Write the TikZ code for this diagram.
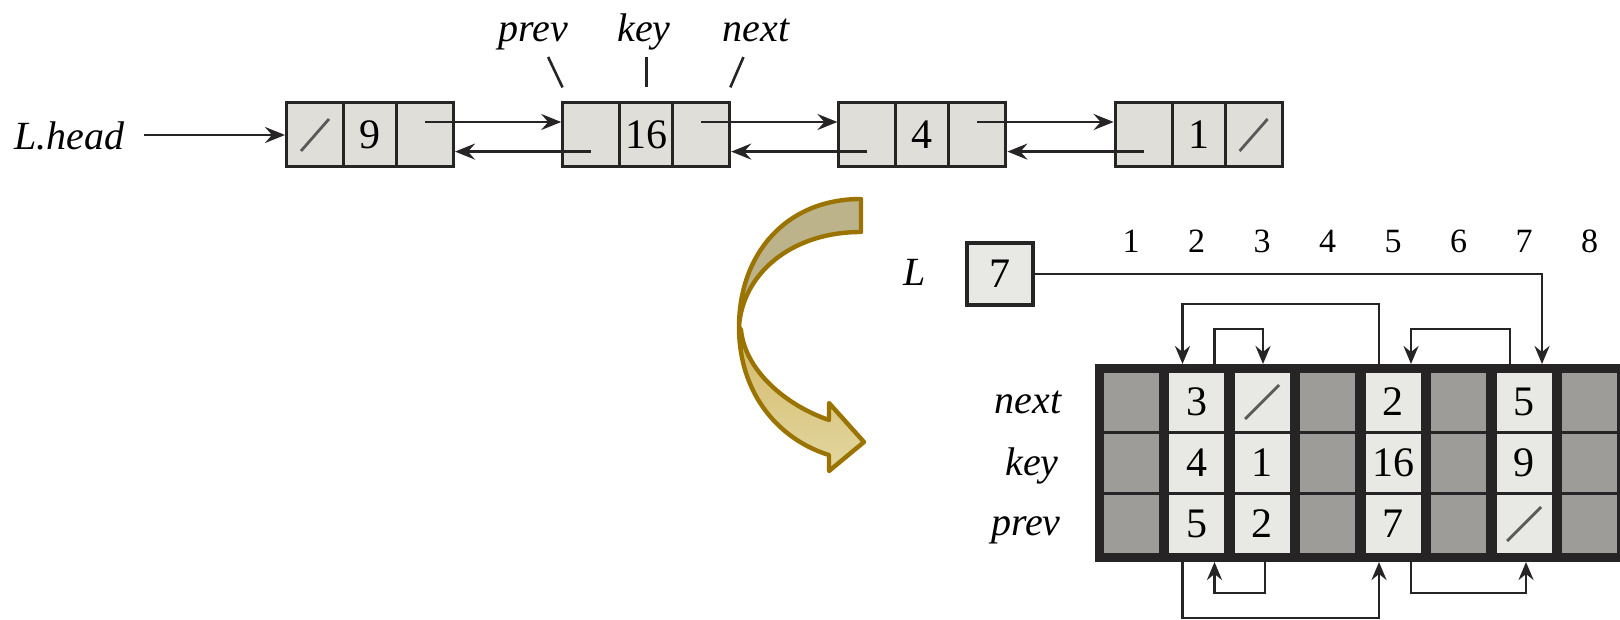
\documentclass[tikz,border=0pt]{standalone}
\usepackage{fontspec}
\setmainfont{Liberation Serif}
\usetikzlibrary{arrows.meta}

\definecolor{boxfill}{HTML}{E0DED9}
\definecolor{slotfill}{HTML}{E8E8E4}
\definecolor{freefill}{HTML}{9E9C98}
\definecolor{darkframe}{HTML}{262425}
\definecolor{goldedge}{HTML}{9A7300}
\definecolor{goldtop}{HTML}{BCB38B}
\definecolor{goldhi}{HTML}{D2B867}
\definecolor{goldmid}{HTML}{C7A646}
\definecolor{goldlow}{HTML}{E3D7A0}

\tikzset{
  lbl/.style={font=\fontsize{20}{24}\selectfont\itshape, inner sep=0pt},
  nil/.style={path picture={\draw[black!65, line width=1.4pt]
      ([shift={(-7pt,-8pt)}]path picture bounding box.center) --
      ([shift={(7pt,8pt)}]path picture bounding box.center);}},
  arrnil/.style={path picture={\draw[black!65, line width=1.4pt]
      ([shift={(-8.5pt,-8.5pt)}]path picture bounding box.center) --
      ([shift={(8.5pt,8.5pt)}]path picture bounding box.center);}},
}

\begin{document}
\begin{tikzpicture}[x=0.5pt,y=-0.5pt]
\useasboundingbox (0,0) rectangle (1620,620);
\clip (0,0) rectangle (1620,620);

% the doubly linked list
\begin{scope}[every node/.style={rectangle,draw=darkframe,line width=1.5pt,fill=boxfill,
              minimum height=32pt,inner sep=0pt,font=\fontsize{21}{24}\selectfont}]
    \node[minimum width=28.5pt,nil] (p1) at (315,135) {};
    \node[minimum width=26.5pt] (k1) at (370,135) {9};
    \node[minimum width=28.5pt] (n1) at (425,135) {};
    \node[minimum width=28.5pt] (p2) at (591.2,135) {};
    \node[minimum width=26.5pt] (k2) at (646.2,135) {16};
    \node[minimum width=28.5pt] (n2) at (701.2,135) {};
    \node[minimum width=28.5pt] (p3) at (867.4,135) {};
    \node[minimum width=26.5pt] (k3) at (922.4,135) {4};
    \node[minimum width=28.5pt] (n3) at (977.4,135) {};
    \node[minimum width=28.5pt] (p4) at (1143.6,135) {};
    \node[minimum width=26.5pt] (k4) at (1198.6,135) {1};
    \node[minimum width=28.5pt,nil] (n4) at (1253.6,135) {};
\end{scope}

\node[lbl,anchor=base] (head) at (69,150) {L.head};
\node[lbl,anchor=base] (lblprev) at (533,42) {prev};
\node[lbl,anchor=base] (lblkey) at (644,42) {key};
\node[lbl,anchor=base] (lblnext) at (756,42) {next};

\begin{scope}[darkframe,line width=1.3pt]
    \draw[shorten <=8.3pt,shorten >=7.8pt] ([xshift=4pt]lblprev.base) -- ([xshift=4pt]p2.north west);
    \draw[shorten <=7.5pt,shorten >=7pt] (k2.north |- lblkey.base) -- (k2.north);
    \draw[shorten <=8.2pt,shorten >=7.7pt] ([xshift=-3pt]lblnext.base) -- ([xshift=-3.5pt]n2.north east);
\end{scope}

\begin{scope}[>={Stealth[length=10pt,width=8pt,inset=3.5pt]},
              every edge/.style={draw=darkframe,line width=1.4pt}]
    \path [->] (head.east |- p1) edge[shorten <=10pt] (p1.west);
    \path [->] ([yshift=6.5pt]n1.center) edge ([yshift=6.5pt]p2.west);
    \path [->] ([yshift=-8.3pt]p2.center) edge ([yshift=-8.3pt]n1.east);
    \path [->] ([yshift=6.5pt]n2.center) edge ([yshift=6.5pt]p3.west);
    \path [->] ([yshift=-8.3pt]p3.center) edge ([yshift=-8.3pt]n2.east);
    \path [->] ([yshift=6.5pt]n3.center) edge ([yshift=6.5pt]p4.west);
    \path [->] ([yshift=-8.3pt]p4.center) edge ([yshift=-8.3pt]n3.east);
\end{scope}

% curved arrow
\begin{scope}[line width=2.2pt,line join=round]
    \filldraw[draw=goldedge,fill=goldtop] (861,199) .. controls (785,199) and (739,255) .. (739,327)
        .. controls (742,275) and (790,232) .. (861,232) -- cycle;
    \shadedraw[draw=goldedge,top color=goldhi,middle color=goldmid,bottom color=goldlow]
        (739,327) .. controls (739,395) and (780,440) .. (829,455) -- (829,471) -- (864,442)
        -- (829,403) -- (829,420) .. controls (785,405) and (745,370) .. (741,330) -- cycle;
\end{scope}

% the array form
\fill[darkframe] (1094.5,364) rectangle (1650,562);
\begin{scope}[every node/.style={rectangle,minimum width=27.5pt,minimum height=29pt,inner sep=0pt,
              outer sep=4.5pt,fill=slotfill,font=\fontsize{21}{24}\selectfont}]
    \foreach \c/\x in {1/1131,4/1327.5,6/1458.5,8/1589.5} {
        \node[fill=freefill] (next\c) at (\x,402) {};
        \node[fill=freefill] (key\c) at (\x,463) {};
        \node[fill=freefill] (prev\c) at (\x,524) {};
    }
    \node (next2) at (1196.5,402) {3};
    \node (key2) at (1196.5,463) {4};
    \node (prev2) at (1196.5,524) {5};
    \node[arrnil] (next3) at (1262,402) {};
    \node (key3) at (1262,463) {1};
    \node (prev3) at (1262,524) {2};
    \node (next5) at (1393,402) {2};
    \node (key5) at (1393,463) {16};
    \node (prev5) at (1393,524) {7};
    \node (next7) at (1524,402) {5};
    \node (key7) at (1524,463) {9};
    \node[arrnil] (prev7) at (1524,524) {};
\end{scope}

\node[lbl,anchor=base east] (rownext) at (1062,413) {next};
\node[lbl,anchor=base east] (rowkey) at (1059,475) {key};
\node[lbl,anchor=base east] (rowprev) at (1061,535) {prev};
\foreach \i in {1,...,8}
    \node[font=\fontsize{17}{20}\selectfont,anchor=base,inner sep=0pt] (idx\i) at ({1131+65.5*(\i-1)},252) {\i};

\node[lbl,anchor=base] (lname) at (915,285) {L};
\node[draw=darkframe,line width=1.6pt,fill=slotfill,minimum width=33pt,minimum height=31pt,
      inner sep=0pt,font=\fontsize{21}{24}\selectfont] (lbox) at (1000,274) {7};

\begin{scope}[>={Stealth[length=9pt,width=7.5pt,inset=3pt]},darkframe,line width=1.4pt]
    \draw[->] (lbox.east) -| ([xshift=9pt]next7.north);
    \draw[->] ([xshift=-7pt]next5.north) -- ++(0,-60) -| ([xshift=-7pt]next2.north);
    \draw[->] ([xshift=9pt]next2.north) -- ++(0,-35) -| ([xshift=0.5pt]next3.north);
    \draw[->] ([xshift=-7pt]next7.north) -- ++(0,-35) -| ([xshift=9pt]next5.north);
    \draw[->] ([xshift=-7pt]prev2.south) -- ++(0,56) -| ([xshift=-7pt]prev5.south);
    \draw[->] ([xshift=1.5pt]prev3.south) -- ++(0,31) -| ([xshift=9pt]prev2.south);
    \draw[->] ([xshift=9pt]prev5.south) -- ++(0,31) -| ([xshift=1pt]prev7.south);
\end{scope}
\end{tikzpicture}
\end{document}
